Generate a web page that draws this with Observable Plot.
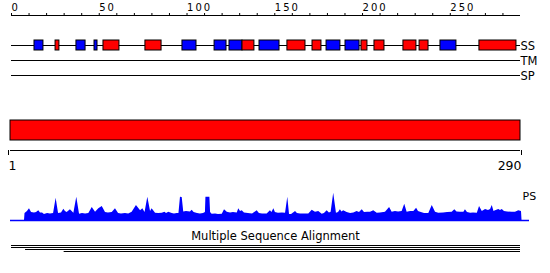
<!DOCTYPE html>
<html><head><meta charset="utf-8">
<script src="https://cdn.jsdelivr.net/npm/d3@7"></script>
<script src="https://cdn.jsdelivr.net/npm/@observablehq/plot@0.6"></script>
<style>
body{margin:0;background:#fff}
#chart{position:relative;width:550px;height:273px;font-family:"DejaVu Sans",sans-serif}
#chart svg{position:absolute;left:0;top:0;background:transparent}
#chart .ruler g[aria-label="x-axis tick label"] text{letter-spacing:2px}
</style></head><body><div id="chart"></div>
<script>
// ---- data ----
const seqLength = 290;
const rulerTicks = [0,10,20,30,40,50,60,70,80,90,100,110,120,130,140,150,160,170,180,190,200,210,220,230,240,250,260,270,280];
const rulerLabels = [0,50,100,150,200,250];
const tracks = ["SS","TM","SP"];
const ssStart = [13.1,25.1,37.0,47.3,52.4,76.3,97.4,115.7,124.2,131.6,141.3,157.2,171.5,179.5,190.3,199.4,206.8,223.3,232.5,244.4,266.6];
const ssEnd   = [18.2,27.3,42.2,49.0,61.5,85.5,105.4,122.5,131.6,138.4,152.7,167.5,176.6,187.4,198.3,202.8,212.5,230.7,237.6,253.5,287.7];
const ssType  = ["E","H","E","E","H","H","E","E","E","H","E","H","H","E","E","H","H","H","H","E","H"];
const domainStart = [1];
const domainEnd = [290];
const lowerTickStart = [1];
const lowerTickEnd = [290];
const psLabel = "PS";
const psProfile = [[1,0],[1.3,7],[2.7,9],[3.9,11.7],[5.1,8],[6.8,7.5],[8.0,8],[9.3,9.7],[10.3,7.5],[11.5,7.5],[12.6,6],[14.4,7],[16.1,6.5],[17.9,7],[19.4,22.3],[20.8,7],[22.5,7.5],[23.9,11.3],[24.8,9],[25.8,8],[27.7,10.7],[29.7,7.3],[31.4,23.3],[33.0,6.3],[34.7,7],[36.5,6.5],[38.4,7],[40.4,13],[42.3,8.3],[44.2,11.7],[46.2,14],[48.1,8],[49.8,7.5],[52.0,8],[53.9,11.7],[55.7,7],[57.4,6.5],[59.7,7],[61.6,6.5],[63.6,8.3],[66.1,15],[68.5,9.7],[69.8,11.7],[71.1,8],[72.7,23.3],[74.3,9],[75.2,11.7],[77.2,7.3],[79.0,7],[81.1,7.3],[82.6,8.3],[83.6,7],[84.9,8.3],[86.9,7],[88.2,6.5],[89.8,7],[90.8,7],[91.7,23.3],[92.7,23],[93.6,8.5],[95.2,9],[97.5,8.5],[98.5,10.3],[99.6,8],[101.6,7],[103.3,6.5],[105.1,7],[106.2,8],[106.5,23.3],[108.8,23.3],[109.2,8],[110.1,6.3],[112.1,6.5],[113.8,6],[116.0,6.3],[117.3,10.7],[118.9,8.3],[120.8,7.5],[122.5,8],[124.7,7.5],[125.6,11.7],[126.6,9],[127.6,9.7],[128.9,7.5],[131.2,7],[133.6,6.5],[136.3,9.7],[137.6,7],[139.4,6.5],[142.1,6.5],[144.0,9.7],[144.9,8],[146.0,11.7],[146.9,8],[148.7,7.3],[151.0,7.5],[152.8,7.3],[154.1,23.3],[155.1,6],[156.3,6],[158.6,9],[159.7,7],[161.5,6.5],[163.8,6.5],[166.3,6.5],[168.3,10.3],[170.2,8.3],[172.1,9],[174.1,6.3],[175.4,7],[177.0,9.7],[178.3,7.5],[179.3,8.3],[180.8,27.3],[182.4,7.3],[183.6,8],[184.7,10.7],[185.6,8.5],[186.6,9.7],[188.6,8],[190.6,7],[192.5,7.5],[194.4,9],[195.8,8],[197.4,10.7],[198.7,8],[200.5,8.3],[202.2,8.3],[204.1,9.7],[206.1,7.3],[208.0,7.5],[210.9,8.3],[213.3,13],[214.8,8.3],[216.7,9],[218.5,8.5],[220.6,9],[222.1,16.3],[223.5,8.3],[225.5,9],[227.4,9],[229.0,12.3],[230.1,9],[231.3,8.3],[233.6,7],[236.1,7],[238.1,15],[240.0,8.3],[241.9,7.3],[244.7,7.5],[247.0,8],[249.7,8.3],[251.2,10.7],[252.5,8.5],[254.5,8.3],[256.5,8.3],[257.4,10.7],[258.6,8],[260.4,7.3],[262.1,7.5],[264.3,7.3],[265.6,14],[267.2,9],[269.1,11],[270.8,10],[272.0,11],[273.0,15],[274.0,9],[274.9,9.7],[276.8,11],[277.8,10],[278.8,11],[280.1,9],[281.9,8.5],[284.6,8.3],[286.5,8.3],[288.4,9.7],[290.0,9],[290.3,0]];
const msaTitle = "Multiple Sequence Alignment";
const msaStart = [0, 0, 8, 30];
const msaEnd = [290, 290, 290, 290];

// ---- layout / style ----
const FONT = "DejaVu Sans";
const RED = "#ff0000", BLUE = "#0000ff";
const trackRow = {SS: 2, TM: 3, SP: 4};   // rows below the ruler (row 0)
const boxHalf = 1 / 3;
const ssIdx = d3.range(ssType.length);
const domIdx = d3.range(domainStart.length);
const msaIdx = d3.range(msaStart.length);
const base = {width: 550, height: 273, style: {fontFamily: FONT, background: "transparent", overflow: "visible"}};

// Panel 1: ruler + feature tracks
const p1 = Plot.plot({
  ...base, className: "ruler",
  marginLeft: 11, marginRight: 30, marginTop: 15, marginBottom: 198,
  x: {domain: [0, seqLength]},
  y: {domain: [0, 4], reverse: true, axis: null},
  color: {domain: ["H", "E"], range: [RED, BLUE]},
  marks: [
    Plot.axisX({anchor: "top", ticks: rulerTicks, tickSize: 3, tickPadding: 2, label: null,
      tickFormat: d => rulerLabels.includes(d) ? String(d) : "", textAnchor: "start", fontSize: 10}),
    Plot.ruleY([0], {x1: 0, x2: seqLength, stroke: "black"}),
    Plot.ruleY(tracks, {y: d => trackRow[d], x1: 0, x2: seqLength, stroke: "black"}),
    Plot.rect(ssIdx, {x1: i => ssStart[i], x2: i => ssEnd[i], y1: trackRow.SS - boxHalf, y2: trackRow.SS + boxHalf,
      fill: i => ssType[i], stroke: "black", strokeWidth: 1}),
    Plot.text(tracks, {x: seqLength, y: d => trackRow[d], text: d => d, textAnchor: "start", lineAnchor: "middle",
      dy: 1, fontSize: 11.5, fill: "black"})
  ]
});

// Panel 2: domain bar + sequence axis
const p2 = Plot.plot({
  ...base,
  marginLeft: 10, marginRight: 30, marginTop: 120, marginBottom: 123,
  x: {domain: [1, seqLength]},
  y: {domain: [0, 3], axis: null},
  marks: [
    Plot.rect(domIdx, {x1: i => domainStart[i], x2: i => domainEnd[i], y1: 1, y2: 3, fill: RED, stroke: "black"}),
    Plot.ruleY([0], {stroke: "black"}),
    Plot.axisX({anchor: "bottom", ticks: lowerTickStart, tickSize: 5, tickPadding: 6, label: null, fontSize: 12.5,
      textAnchor: "start", dx: -2}),
    Plot.axisX({anchor: "bottom", ticks: lowerTickEnd, tickSize: 5, tickPadding: 6, label: null, fontSize: 12.5,
      textAnchor: "end", dx: 1})
  ]
});

// Panel 3: PS profile
const p3 = Plot.plot({
  ...base,
  marginLeft: 10, marginRight: 21, marginTop: 190, marginBottom: 53,
  x: {domain: [1, seqLength], range: [24, 521], axis: null},
  y: {domain: [0, 30], axis: null},
  marks: [
    Plot.areaY(psProfile, {x: d => d[0], y: d => d[1], fill: BLUE}),
    Plot.ruleY([0], {stroke: BLUE, strokeWidth: 1.3}),
    Plot.text([{label: psLabel, pos: seqLength}], {x: "pos", text: "label", frameAnchor: "top", textAnchor: "start",
      lineAnchor: "top", dx: 1, dy: 2, fontSize: 11, fill: "black"})
  ]
});

// Panel 4: multiple sequence alignment coverage
const p4 = Plot.plot({
  ...base,
  marginLeft: 0, marginRight: 0, marginTop: 231, marginBottom: 20,
  x: {domain: [0, seqLength], range: [11, 520], axis: null},
  y: {domain: [0, 3], range: [245, 251], axis: null},
  marks: [
    Plot.text([msaTitle], {frameAnchor: "top", lineAnchor: "top", fontSize: 11.5, fill: "black"}),
    Plot.ruleY(msaIdx, {y: i => i, x1: i => msaStart[i], x2: i => msaEnd[i], stroke: "black"})
  ]
});

const chart = document.getElementById("chart");
[p1, p2, p3, p4].forEach(s => chart.appendChild(s));
</script></body></html>
